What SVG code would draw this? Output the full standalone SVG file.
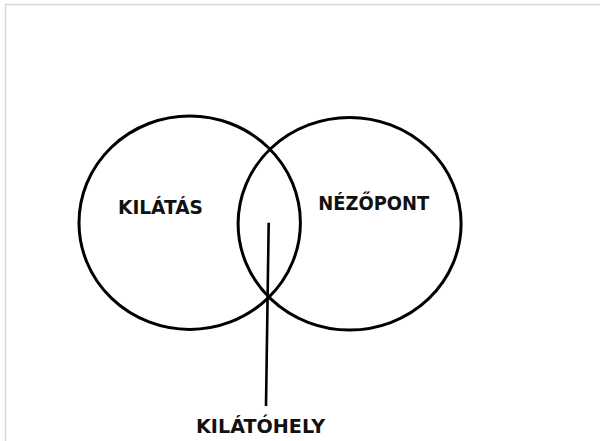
<svg xmlns="http://www.w3.org/2000/svg" width="600" height="441" viewBox="0 0 600 441">
<style>
.c{fill:none;stroke:#000;stroke-width:3}
.t{font-family:"DejaVu Sans",Verdana,sans-serif;font-weight:bold;font-size:20px;fill:#111;text-anchor:middle}
.f{stroke:#d8d8d8;stroke-width:1.5}
</style>
<rect width="600" height="441" fill="#fff"/>
<line class="f" x1="5" y1="4.5" x2="600" y2="4.5"/>
<line class="f" x1="5.5" y1="4" x2="5.5" y2="441"/>
<g id="kilatas">
<ellipse class="c" cx="189.7" cy="222.7" rx="110.7" ry="106.7"/>
<text class="t" x="160.5" y="213.5" textLength="85" lengthAdjust="spacingAndGlyphs">KILÁTÁS</text>
</g>
<g id="nezopont">
<ellipse class="c" cx="349.6" cy="223.7" rx="111.5" ry="106.3"/>
<text class="t" x="373.8" y="209.8" textLength="111" lengthAdjust="spacingAndGlyphs">NÉZŐPONT</text>
</g>
<g id="connectors">
<line x1="268.7" y1="222.7" x2="266" y2="406" stroke="#000" stroke-width="2.6"/>
</g>
<g id="kilatohely">
<text class="t" x="260.5" y="433" textLength="129" lengthAdjust="spacingAndGlyphs">KILÁTÓHELY</text>
</g>
</svg>
